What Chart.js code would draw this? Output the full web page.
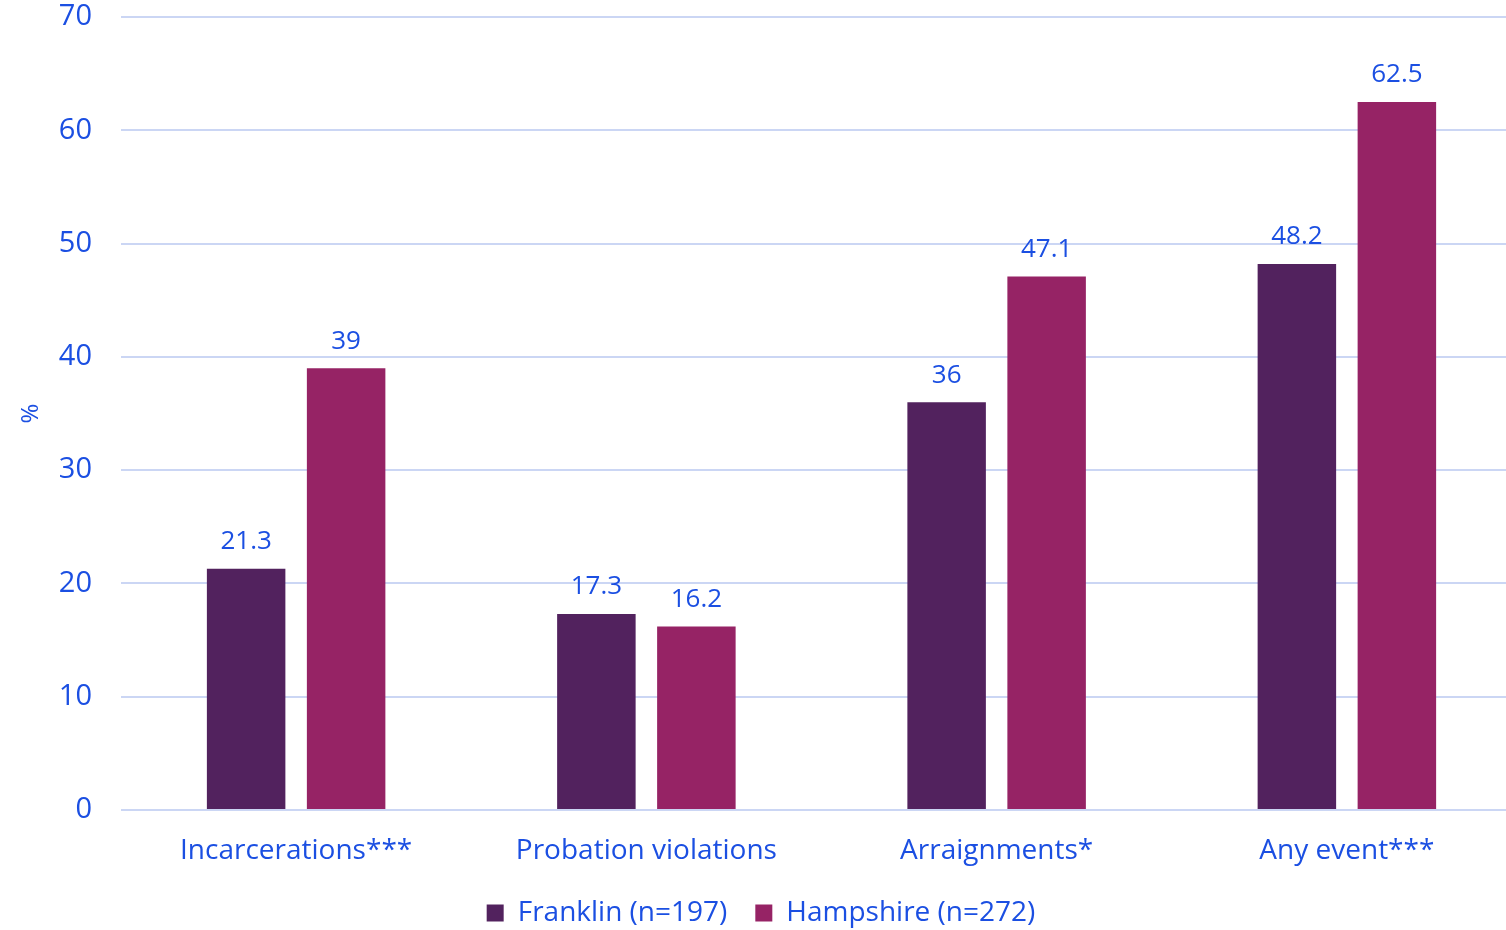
<!DOCTYPE html>
<html>
<head>
<meta charset="utf-8">
<script src="https://cdn.jsdelivr.net/npm/chart.js@4"></script>
<style>
  html, body { margin: 0; padding: 0; background: #fff; overflow: hidden; }
  /* a área do gráfico passa um pouco da borda direita, como no original */
  #wrap { width: 1522px; height: 930px; }
</style>
</head>
<body>
<div id="wrap"><canvas id="grafico"></canvas></div>
<script>
// dados
const categorias = ['Incarcerations***', 'Probation violations', 'Arraignments*', 'Any event***'];
const franklin = [21.3, 17.3, 36, 48.2];
const hampshire = [39, 16.2, 47.1, 62.5];
const series = ['Franklin (n=197)', 'Hampshire (n=272)'];

const azul = '#1B4FE2';
const fonte = "'Open Sans', 'Noto Sans', sans-serif";

// rótulos de valor acima das barras
const rotulos = {
  id: 'rotulos',
  afterDatasetsDraw(chart) {
    const ctx = chart.ctx;
    ctx.save();
    ctx.font = `26px ${fonte}`;
    ctx.fillStyle = azul;
    ctx.textAlign = 'center';
    ctx.textBaseline = 'bottom';
    chart.data.datasets.forEach((ds, i) => {
      chart.getDatasetMeta(i).data.forEach((bar, j) => {
        ctx.fillText(String(ds.data[j]), bar.x, bar.y - 14);
      });
    });
    ctx.restore();
  }
};

new Chart(document.getElementById('grafico'), {
  type: 'bar',
  data: {
    labels: categorias,
    datasets: [
      { label: series[0], data: franklin, backgroundColor: '#52225E', categoryPercentage: 0.571, barPercentage: 0.785 },
      { label: series[1], data: hampshire, backgroundColor: '#962365', categoryPercentage: 0.571, barPercentage: 0.785 }
    ]
  },
  options: {
    responsive: true,
    maintainAspectRatio: false,
    animation: false,
    layout: { padding: { top: 17, right: 0, left: 0, bottom: -7 } },
    plugins: {
      tooltip: { enabled: false },
      legend: {
        position: 'bottom',
        labels: {
          color: azul,
          font: { family: fonte, size: 28 },
          boxWidth: 17,
          boxHeight: 17,
          padding: 28
        }
      }
    },
    scales: {
      x: {
        // altura fixa: o Chart.js reserva o dobro do padding
        afterFit: s => { s.paddingLeft = 0; s.paddingRight = 0; s.height = 61; },
        grid: { display: false, drawTicks: false },
        border: { display: false },
        ticks: { color: azul, font: { family: fonte, size: 28 }, padding: 24, maxRotation: 0 }
      },
      y: {
        min: 0,
        max: 70,
        afterFit: s => { s.width = 121; s.paddingTop = 0; s.paddingBottom = 0; },
        grid: { color: '#CBD6F4', lineWidth: 2, drawTicks: false },
        border: { display: false },
        ticks: { stepSize: 10, color: azul, font: { family: fonte, size: 29 }, padding: 29 },
        title: { display: true, text: '%', color: azul, font: { family: fonte, size: 24 }, padding: { top: 17 } }
      }
    }
  },
  plugins: [rotulos]
});
</script>
</body>
</html>
